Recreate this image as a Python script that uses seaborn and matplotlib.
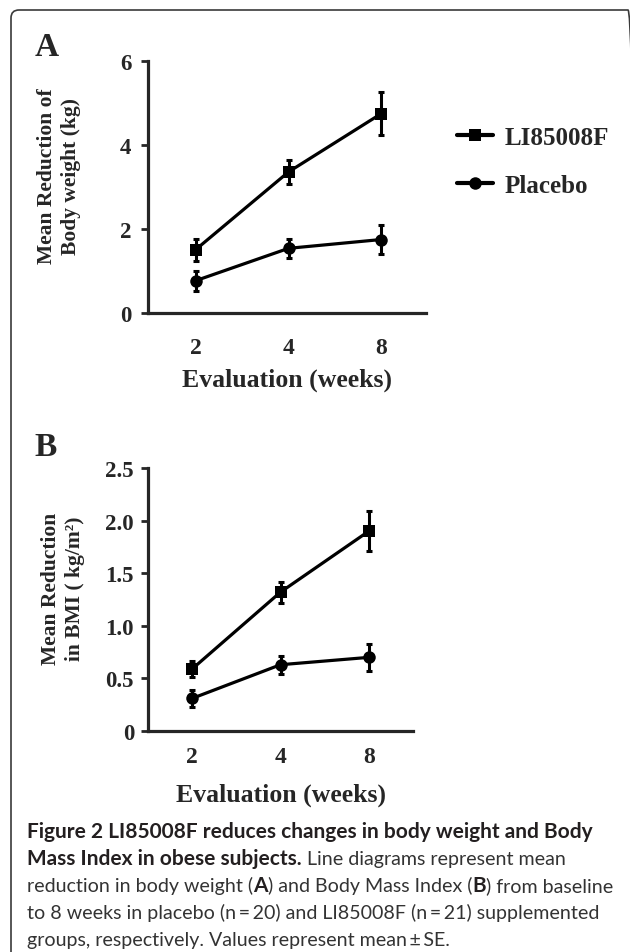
import numpy as np
import pandas as pd
import matplotlib
matplotlib.use("Agg")
import matplotlib.pyplot as plt
from matplotlib.patches import FancyBboxPatch
import seaborn as sns

# Dane (srednia i SE)
weeks = ["2", "4", "8"]
groups = ["LI85008F", "Placebo"]
weight_li = [1.51, 3.36, 4.75]
weight_li_se = [0.26, 0.29, 0.51]
weight_pl = [0.77, 1.54, 1.75]
weight_pl_se = [0.24, 0.23, 0.35]
bmi_li = [0.59, 1.32, 1.90]
bmi_li_se = [0.075, 0.10, 0.19]
bmi_pl = [0.31, 0.63, 0.70]
bmi_pl_se = [0.08, 0.085, 0.13]
yticks_a = [0, 2, 4, 6]
yticks_b = [0, 0.5, 1.0, 1.5, 2.0, 2.5]
ytick_labels_b = ["0", "0.5", "1.0", "1.5", "2.0", "2.5"]

sns.set_style("ticks")
plt.rcParams["font.family"] = ["Liberation Serif", "DejaVu Serif"]
plt.rcParams["font.weight"] = "bold"

W, H = 630, 953
fig = plt.figure(figsize=(W / 100, H / 100), dpi=100)


def px_axes(left, top, right, bottom):
    return fig.add_axes([left / W, 1 - bottom / H, (right - left) / W, (bottom - top) / H])


def draw_panel(ax, li, li_se, pl, pl_se, xlim, ylim, yticks, ylabels, ylabel, tickpad_x, tickpad_y, xlabelpad):
    x = np.arange(len(weeks))
    df = pd.DataFrame({
        "week": np.concatenate([x, x]),
        "value": li + pl,
        "group": [groups[0]] * 3 + [groups[1]] * 3,
    })
    sns.lineplot(data=df, x="week", y="value", hue="group", style="group",
                 palette=["black", "black"], markers={"LI85008F": "s", "Placebo": "o"},
                 dashes=False, linewidth=2.3, markersize=9, markeredgewidth=0,
                 markeredgecolor="black", ax=ax)
    ax.errorbar(x, li, yerr=li_se, fmt="none", ecolor="black", elinewidth=2.2, capsize=2.5, capthick=2.2)
    ax.errorbar(x, pl, yerr=pl_se, fmt="none", ecolor="black", elinewidth=2.2, capsize=2.5, capthick=2.2)
    ax.set_xlim(*xlim)
    ax.set_ylim(*ylim)
    ax.set_xticks(x)
    ax.set_xticklabels(weeks)
    ax.set_yticks(yticks)
    ax.set_yticklabels(ylabels)
    ax.tick_params(axis="x", length=0, pad=tickpad_x, labelsize=17)
    ax.tick_params(axis="y", length=5, width=2, pad=tickpad_y, labelsize=16.5)
    for s in ["top", "right"]:
        ax.spines[s].set_visible(False)
    for s in ["left", "bottom"]:
        ax.spines[s].set_linewidth(2.3)
    ax.set_xlabel("Evaluation (weeks)", fontsize=18.5, fontweight="bold", labelpad=xlabelpad)
    ax.set_ylabel("")
    ax.text(-0.32, 0.545, ylabel, transform=ax.transAxes, rotation=90, ha="center", va="center",
            multialignment="center", fontsize=15.5, fontweight="bold", linespacing=1.3)


ax1 = px_axes(148, 62, 426, 314)
draw_panel(ax1, weight_li, weight_li_se, weight_pl, weight_pl_se, (-0.514, 2.48), (0, 6),
           yticks_a, [str(v) for v in yticks_a], "Mean Reduction of\nBody weight (kg)", 17, 7, 7)
sns.move_legend(ax1, loc="upper left", bbox_to_anchor=((457 - 148) / 278, (314 - 127) / 252),
                frameon=False, title=None, fontsize=18, handlelength=1.45, handletextpad=0.45,
                labelspacing=1.0, borderpad=0, borderaxespad=0)
for t in ax1.get_legend().get_texts():
    t.set_fontweight("bold")
for h in ax1.get_legend().get_lines():
    h.set_linewidth(3)

ax2 = px_axes(148, 469, 413, 732)
draw_panel(ax2, bmi_li, bmi_li_se, bmi_pl, bmi_pl_se, (-0.5, 2.5), (0, 2.5),
           yticks_b, ytick_labels_b, "Mean Reduction\nin BMI ( kg/m²)", 11, 5, 11)
ax2.get_legend().remove()

fig.text(47 / W, 1 - 47 / H, "A", fontsize=24, fontweight="bold", ha="center", va="center")
fig.text(46 / W, 1 - 447 / H, "B", fontsize=24, fontweight="bold", ha="center", va="center")

# ramka z zaokraglonym rogiem
box = FancyBboxPatch((0.11, -0.3), 6.25, 9.42 + 0.3, boxstyle="round,pad=0,rounding_size=0.08",
                     transform=fig.dpi_scale_trans, fill=False, edgecolor="#3a3a3a", linewidth=1.2,
                     clip_on=False)
fig.patches.append(box)

# podpis
cap_font = "Lato"
bold_color = "#231f20"
reg_color = "#333333"
renderer = fig.canvas.get_renderer()


def text_width(s, size, bold):
    t = fig.text(0, 0, s, fontsize=size, family=cap_font, fontweight="bold" if bold else "normal")
    w = t.get_window_extent(renderer).width
    t.remove()
    return w


caption = [
    [("Figure 2 LI85008F reduces changes in body weight and Body", True)],
    [("Mass Index in obese subjects.", True), ("Line diagrams represent mean", False)],
    [("reduction in body weight (", False), ("A", True), (") and Body Mass Index (", False),
     ("B", True), (") from baseline", False)],
    [("to 8 weeks in placebo (n\u2009=\u200920) and LI85008F (n\u2009=\u200921) supplemented", False)],
    [("groups, respectively. Values represent mean\u2009\u00b1\u2009SE.", False)],
]

bold_size = 10 * 568 / text_width(caption[0][0][0], 10, True)
line3 = caption[2]
bold_w = sum(text_width(s, bold_size, True) for s, b in line3 if b)
reg_w10 = sum(text_width(s, 10, False) for s, b in line3 if not b)
reg_size = 10 * (588 - bold_w) / reg_w10

for i, line in enumerate(caption):
    x = 27.0
    y = 838 + 27 * i
    for j, (s, bold) in enumerate(line):
        size = bold_size if bold else reg_size
        if j > 0 and line[j - 1][0].endswith("."):
            x += text_width("a a", reg_size, False) - text_width("aa", reg_size, False)
        fig.text(x / W, 1 - y / H, s, fontsize=size, family=cap_font,
                 fontweight="bold" if bold else "normal", color=bold_color if bold else reg_color,
                 va="baseline", ha="left")
        x += text_width(s, size, bold)

plt.savefig("out.png", dpi=100)
